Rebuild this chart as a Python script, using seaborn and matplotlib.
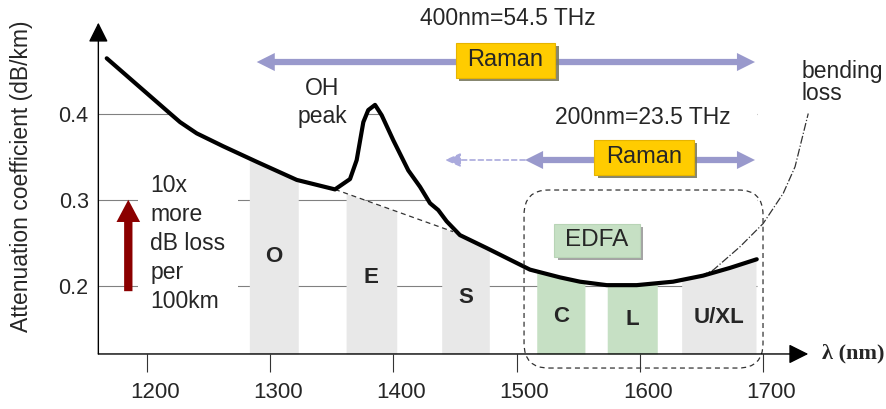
import numpy as np
import matplotlib
matplotlib.use("Agg")
import matplotlib.pyplot as plt
import matplotlib.patheffects as pe
from matplotlib.patches import FancyBboxPatch
from matplotlib.transforms import ScaledTranslation
import seaborn as sns

# attenuation curve
wavelength = [1167.5, 1218.9, 1227.0, 1240.5, 1262.0, 1289.2, 1321.7, 1352.7,
              1364.9, 1370.3, 1375.7, 1379.7, 1385.2, 1390.6, 1400.0, 1412.2,
              1421.7, 1429.8, 1436.5, 1443.3, 1454.1, 1475.8, 1510.9, 1535.3,
              1551.5, 1573.2, 1597.5, 1627.0, 1651.3, 1673.2, 1694.9]
attenuation = [0.464, 0.400, 0.390, 0.377, 0.362, 0.344, 0.323, 0.312,
               0.324, 0.346, 0.390, 0.404, 0.410, 0.398, 0.369, 0.334,
               0.315, 0.296, 0.288, 0.275, 0.259, 0.244, 0.219, 0.210,
               0.205, 0.201, 0.201, 0.205, 0.212, 0.221, 0.231]

# curve without the OH peak (dashed)
no_oh_wl = [1352.7, 1448.5]
no_oh_att = [0.312, 0.263]

# bending loss (dash-dot)
bend_wl = [1648.8, 1659.6, 1681.3, 1700.2, 1716.4, 1726.0, 1732.7, 1736.7]
bend_att = [0.211, 0.2185, 0.2455, 0.2726, 0.3074, 0.3383, 0.377, 0.400]

# transmission bands
band_names = ["O", "E", "S", "C", "L", "U/XL"]
band_lo = [1283.2, 1361.7, 1439.3, 1516.4, 1573.6, 1634.0]
band_hi = [1322.9, 1402.8, 1477.9, 1555.5, 1614.2, 1694.3]
band_label_y = [0.234, 0.210, 0.187, 0.165, 0.161, 0.164]
edfa_bands = ["C", "L"]

xticks = [1200, 1300, 1400, 1500, 1600, 1700]
yticks = [0.2, 0.3, 0.4]

# Raman spans
raman_wide = (1289.2, 1693.5)
raman_narrow = (1506.9, 1693.5)
raman_narrow_ext = 1441.9

sns.set_style("white")
plt.rcParams["font.family"] = ["Liberation Sans", "DejaVu Sans"]

GRAY = "#e8e8e8"
GREEN = "#c6e0c4"
LAV = "#9999cc"

fig = plt.figure(figsize=(8.87, 4.09), dpi=100)
ax = fig.add_axes([0, 0, 1, 1])
x0, y0 = 1160.7, 0.1212
ax.set_xlim(1080.9, 1800.6)
ax.set_ylim(0.0574, 0.5316)
for s in ax.spines.values():
    s.set_visible(False)
ax.spines["left"].set_position(("data", x0))
ax.spines["bottom"].set_position(("data", y0))

# axes with arrow heads
arrow_axis = dict(arrowstyle="-|>,head_length=0.8,head_width=0.4", mutation_scale=15,
                  color="black", lw=1, shrinkA=0, shrinkB=0)
ax.annotate("", xy=(1736.7, y0), xytext=(x0, y0), arrowprops=arrow_axis, zorder=7)
ax.annotate("", xy=(x0, 0.5053), xytext=(x0, y0), arrowprops=arrow_axis, zorder=7)

ax.set_xticks(xticks)
ax.set_xticklabels([str(t) for t in xticks])
ax.set_yticks(yticks)
ax.set_yticklabels([f"{t:.1f}" for t in yticks])
ax.tick_params(axis="x", direction="out", length=13, width=0.8, pad=7,
               labelsize=16, bottom=True, color="#333333")
ax.tick_params(axis="y", length=0, pad=7, labelsize=15.5, left=True)
shift = ScaledTranslation(8 / 100, 0, fig.dpi_scale_trans)
for lab in ax.get_xticklabels():
    lab.set_transform(lab.get_transform() + shift)

ax.set_ylabel("Attenuation coefficient (dB/km)", fontsize=16.5)
ax.yaxis.set_label_coords(33 / 887, 1 - 176.5 / 409)

# gridlines, only visible below the curve
ax.hlines(yticks, x0, 1695, color="#808080", lw=0.8, zorder=0.5)
fill_x = np.r_[x0, wavelength]
fill_y = np.r_[attenuation[0], attenuation]
ax.fill_between(fill_x, fill_y, 0.6, color="white", lw=0, zorder=1)

# bands: fill up to curve without OH peak
wl = np.array(wavelength)
att = np.array(attenuation)
keep = (wl <= no_oh_wl[0]) | (wl >= no_oh_wl[-1])
base_wl = np.r_[wl[keep], no_oh_wl]
base_att = np.r_[att[keep], no_oh_att]
order = np.argsort(base_wl)
base_wl, base_att = base_wl[order], base_att[order]
for name, lo, hi, ly in zip(band_names, band_lo, band_hi, band_label_y):
    xs = np.linspace(lo, hi, 40)
    top = np.interp(xs, base_wl, base_att)
    col = GREEN if name in edfa_bands else GRAY
    ax.fill_between(xs, y0, top, color=col, lw=0, zorder=2)
    ax.text((lo + hi) / 2, ly, name, ha="center", va="center", fontsize=16,
            fontweight="bold", zorder=5)

ax.plot(no_oh_wl, no_oh_att, ls=(0, (4, 3)), color="#333333", lw=0.9, zorder=3)
sns.lineplot(x=wavelength, y=attenuation, color="black", lw=3, ax=ax,
             estimator=None, sort=False, zorder=4)
ax.plot(bend_wl, bend_att, ls="-.", color="#333333", lw=0.9, zorder=3)

# EDFA dashed rounded box
aspect = (0.5316 - 0.0574) / 409 / ((1800.6 - 1080.9) / 887)
ax.add_patch(FancyBboxPatch((1506.1, 0.1049), 193.9, 0.2064,
                            boxstyle="round,pad=0,rounding_size=20",
                            mutation_aspect=aspect, fill=False, ls=(0, (4, 3)),
                            lw=0.9, ec="#333333", zorder=6))

# Raman arrows
big = dict(arrowstyle="simple,head_length=1.3,head_width=1.3,tail_width=0.45",
           mutation_scale=10, color=LAV, lw=0, shrinkA=0, shrinkB=0)
for (lo, hi), yy in [(raman_wide, 0.4597), (raman_narrow, 0.3461)]:
    mid = (lo + hi) / 2
    ax.annotate("", xy=(lo, yy), xytext=(mid, yy), arrowprops=big, zorder=5)
    ax.annotate("", xy=(hi, yy), xytext=(mid, yy), arrowprops=big, zorder=5)
ax.annotate("", xy=(raman_narrow_ext, 0.3461), xytext=(raman_narrow[0], 0.3461),
            arrowprops=dict(arrowstyle="-|>,head_length=0.95,head_width=0.42",
                            mutation_scale=10, color="#aaaadd", lw=1.2,
                            ls=(0, (3, 2)), shrinkA=0, shrinkB=0), zorder=5)

shadow = [pe.SimplePatchShadow(offset=(2.5, -2.5), shadow_rgbFace="#7a7a60", alpha=0.9),
          pe.Normal()]
for xx, yy in [(1491.0, 0.462), (1603.4, 0.349)]:
    t = ax.text(xx, yy, "Raman", ha="center", va="center", fontsize=17, zorder=8,
                bbox=dict(boxstyle="square,pad=0.5", fc="#ffcc00", ec="#e6b400",
                          lw=0.8, mutation_aspect=0.55))
    t.get_bbox_patch().set_path_effects(shadow)
t = ax.text(1565.3, 0.2528, "EDFA", ha="center", va="center", fontsize=17.5, zorder=8,
            bbox=dict(boxstyle="square,pad=0.45", fc=GREEN, ec="#b8d4b6",
                      lw=0.8, mutation_aspect=0.5))
t.get_bbox_patch().set_path_effects(
    [pe.SimplePatchShadow(offset=(2.5, -2.5), shadow_rgbFace="#9a9a9a", alpha=0.9),
     pe.Normal()])

# labels
ax.text(1492.7, 0.5096, "400nm=54.5 THz", ha="center", va="center", fontsize=16.5)
ax.text(1602.2, 0.3959, "200nm=23.5 THz", ha="center", va="center", fontsize=16.5)
ax.text(1342.2, 0.4128, "OH\npeak", ha="center", va="center", fontsize=16.5,
        linespacing=1.27, zorder=5)
ax.text(1731.4, 0.436, "bending\nloss", ha="left", va="center", fontsize=16.5,
        linespacing=0.97, zorder=5)
ax.text(1202.7, 0.2495, "10x\nmore\ndB loss\nper\n100km", ha="left", va="center",
        fontsize=16.5, linespacing=1.33, zorder=5,
        bbox=dict(boxstyle="square,pad=0.55", fc="white", ec="none"))
ax.text(1747.7, y0, "λ (nm)", ha="left", va="center", fontsize=16,
        fontweight="bold", family="Liberation Serif")

# red arrow: 10x more loss per 100 km
ax.annotate("", xy=(1185, 0.300), xytext=(1185, 0.194),
            arrowprops=dict(arrowstyle="simple,head_length=1.6,head_width=1.7,tail_width=0.6",
                            mutation_scale=10, color="#8b0000", lw=0,
                            shrinkA=0, shrinkB=0), zorder=6)

fig.savefig("out.png", dpi=100)
